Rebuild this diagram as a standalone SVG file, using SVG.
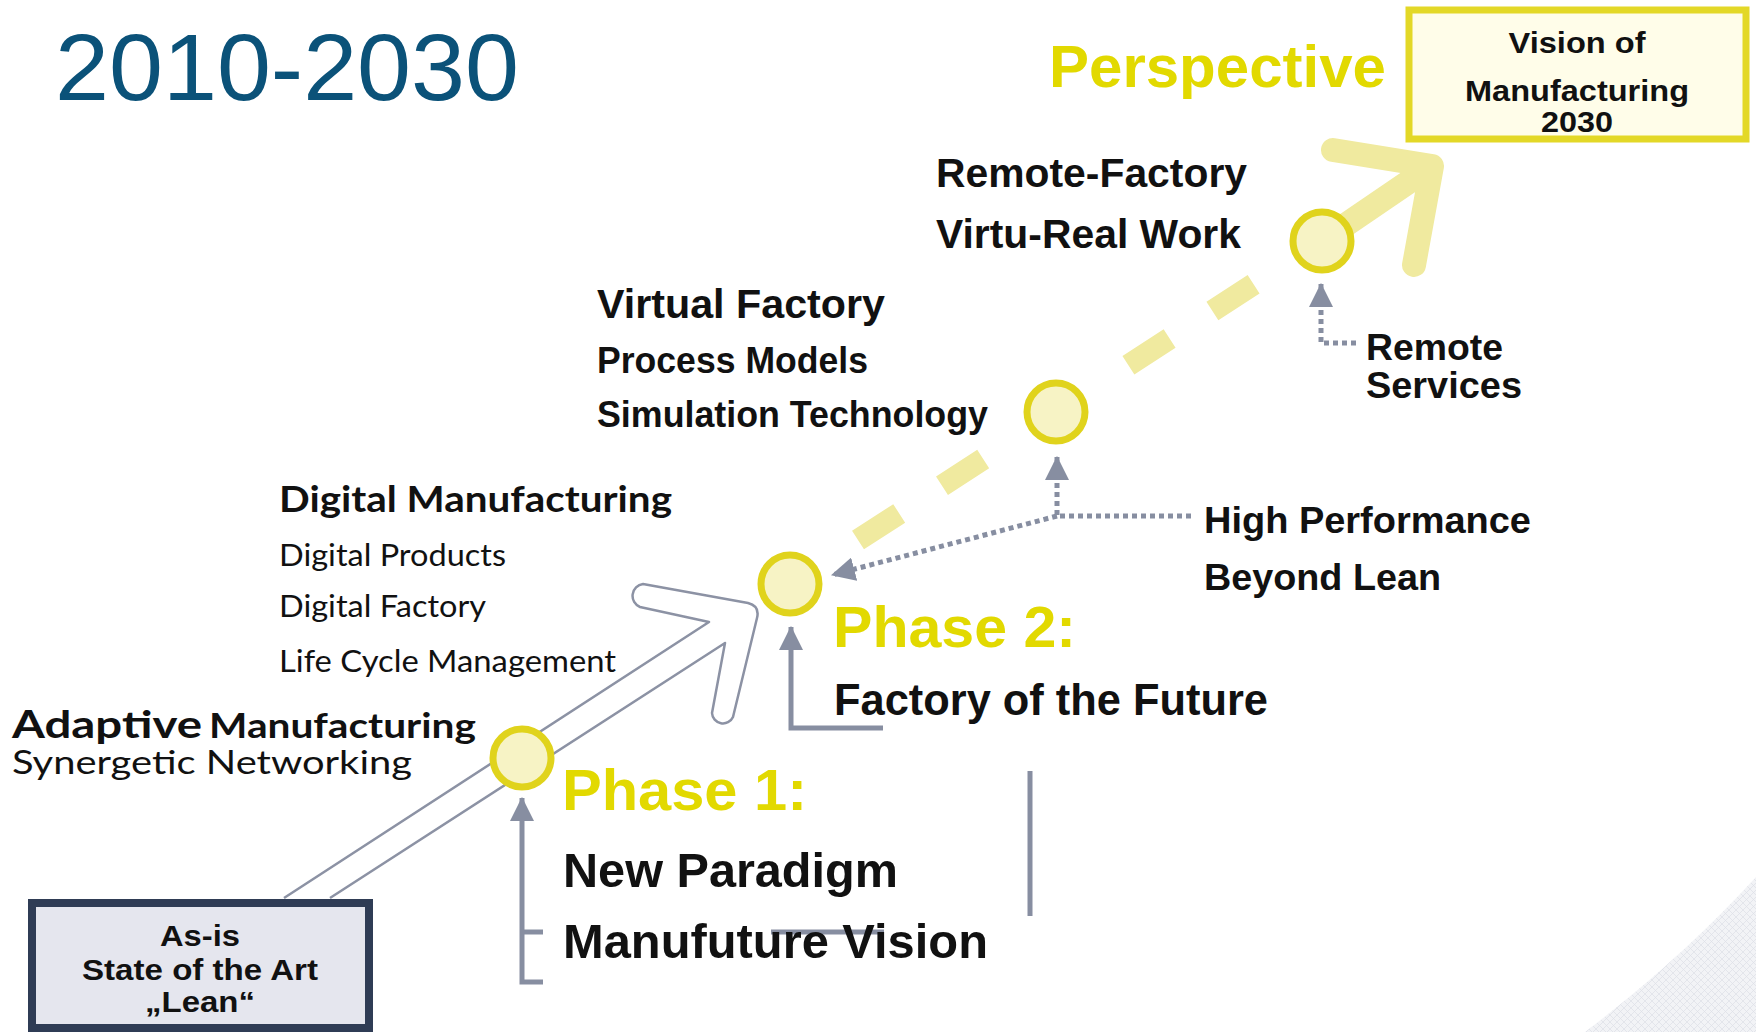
<svg xmlns="http://www.w3.org/2000/svg" width="1756" height="1032" viewBox="0 0 1756 1032">
<defs>
<style>
.b{font-family:"Liberation Sans",Arial,sans-serif;font-weight:bold;fill:#111}
.c{font-family:Lato,"Open Sans",sans-serif;fill:#111}
.yl{fill:#E2D900}
.node{fill:#F7F3C5;stroke:#E0D31C;stroke-width:7}
.gray{stroke:#878EA1;fill:none;stroke-width:5}
.dot{stroke-dasharray:5 4}
.dash{stroke:#F0EA9F;stroke-width:22;fill:none}
</style>
<marker id="ah" markerUnits="userSpaceOnUse" markerWidth="24" markerHeight="24" viewBox="0 0 22 22" refX="21" refY="11" orient="auto">
<path d="M0,0 L22,11 L0,22 Z" fill="#878EA1"/>
</marker>
<pattern id="mesh" width="7" height="7" patternUnits="userSpaceOnUse">
<rect width="7" height="7" fill="#F2F3F6"/>
<path d="M0 0 L7 7 M7 0 L0 7" stroke="#DCDFE6" stroke-width="0.7"/>
</pattern>
</defs>
<rect width="1756" height="1032" fill="#FFFFFF"/>
<path id="swoosh" d="M1585 1032 Q1680 960 1756 877 L1756 1032 Z" fill="url(#mesh)"/>

<g id="title">
<text x="55" y="100" font-family="Liberation Sans, Arial, sans-serif" font-size="95" fill="#0B5279" textLength="464" lengthAdjust="spacingAndGlyphs">2010-2030</text>
</g>

<g id="connectors">
<path class="dash" d="M858 540 L899.2 513.4 M942 485.7 L983.2 459.1 M1128.4 365.2 L1169.6 338.6 M1212.4 310.9 L1253.6 284.3"/>
<path d="M1322 241 L1432 166 M1333 150 L1432 166 L1414 265" stroke="#F0EA9F" stroke-width="24" fill="none" stroke-linecap="round" stroke-linejoin="round"/>
<path d="M284 898 L709 622 L640 607 A12 12 0 0 1 643 584 L748 603 Q760 606 757 618 L733 717 A11 11 0 0 1 712 713 L725 643 L330 898" fill="#FFFFFF" stroke="#8C92A4" stroke-width="2.5" stroke-linejoin="round"/>
<path class="gray" d="M543 982 L522 982 L522 798" marker-end="url(#ah)"/>
<path class="gray" d="M522 932 L543 932"/>
<path class="gray" d="M883 728 L791 728 L791 627" marker-end="url(#ah)"/>
<path class="gray dot" d="M1356 343 L1321 343 L1321 284" marker-end="url(#ah)"/>
<path class="gray dot" d="M1191 516 L1057 516 L1057 457" marker-end="url(#ah)"/>
<path class="gray dot" d="M1057 516 L832 575" marker-end="url(#ah)"/>
<path class="gray" d="M1030 771 L1030 916"/>
<path class="gray" d="M771 932 L884 932"/>
</g>

<g id="node-vision">
<rect x="1409" y="10" width="337" height="129" fill="#FFFDE9" stroke="#E3D827" stroke-width="7"/>
<text class="b" x="1577" y="53" font-size="30" text-anchor="middle" textLength="137" lengthAdjust="spacingAndGlyphs">Vision of</text>
<text class="b" x="1577" y="101" font-size="29" text-anchor="middle" textLength="224" lengthAdjust="spacingAndGlyphs">Manufacturing</text>
<text class="b" x="1577" y="132" font-size="29" text-anchor="middle" textLength="72" lengthAdjust="spacingAndGlyphs">2030</text>
</g>

<g id="node-perspective">
<text class="b yl" x="1049" y="87" font-size="60">Perspective</text>
<circle class="node" cx="1322" cy="241" r="29"/>
<text class="b" x="936" y="187" font-size="41" textLength="311" lengthAdjust="spacingAndGlyphs">Remote-Factory</text>
<text class="b" x="936" y="248" font-size="41" textLength="305" lengthAdjust="spacingAndGlyphs">Virtu-Real Work</text>
</g>

<g id="node-remote-services">
<text class="b" x="1366" y="360" font-size="36" textLength="137" lengthAdjust="spacingAndGlyphs">Remote</text>
<text class="b" x="1366" y="398" font-size="36" textLength="156" lengthAdjust="spacingAndGlyphs">Services</text>
</g>

<g id="node-virtual">
<circle class="node" cx="1056" cy="412" r="29"/>
<text class="b" x="597" y="318" font-size="41" textLength="288" lengthAdjust="spacingAndGlyphs">Virtual Factory</text>
<text class="b" x="597" y="373" font-size="36" textLength="271" lengthAdjust="spacingAndGlyphs">Process Models</text>
<text class="b" x="597" y="427" font-size="36" textLength="391" lengthAdjust="spacingAndGlyphs">Simulation Technology</text>
</g>

<g id="node-high-performance">
<text class="b" x="1204" y="533" font-size="37" textLength="327" lengthAdjust="spacingAndGlyphs">High Performance</text>
<text class="b" x="1204" y="590" font-size="37" textLength="237" lengthAdjust="spacingAndGlyphs">Beyond Lean</text>
</g>

<g id="node-phase2">
<circle class="node" cx="790" cy="584" r="29"/>
<text class="b yl" x="833" y="647" font-size="58" textLength="243" lengthAdjust="spacingAndGlyphs">Phase 2:</text>
<text class="b" x="834" y="715" font-size="44" textLength="434" lengthAdjust="spacingAndGlyphs">Factory of the Future</text>
</g>

<g id="node-digital">
<text class="c" x="279" y="512" font-size="37" font-weight="bold" textLength="393" lengthAdjust="spacingAndGlyphs">Digital Manufacturing</text>
<text class="c" x="279" y="566" font-size="30" textLength="227" lengthAdjust="spacingAndGlyphs">Digital Products</text>
<text class="c" x="279" y="617" font-size="30" textLength="207" lengthAdjust="spacingAndGlyphs">Digital Factory</text>
<text class="c" x="279" y="672" font-size="30" textLength="337" lengthAdjust="spacingAndGlyphs">Life Cycle Management</text>
</g>

<g id="node-adaptive">
<text class="c" x="12" y="738" font-weight="bold"><tspan font-size="38" textLength="190" lengthAdjust="spacingAndGlyphs">Adaptive</tspan><tspan x="209" font-size="34" textLength="267" lengthAdjust="spacingAndGlyphs">Manufacturing</tspan></text>
<text class="c" x="12" y="774" font-size="32" textLength="400" lengthAdjust="spacingAndGlyphs">Synergetic Networking</text>
</g>

<g id="node-phase1">
<circle class="node" cx="522" cy="758" r="29"/>
<text class="b yl" x="562" y="810" font-size="58" textLength="245" lengthAdjust="spacingAndGlyphs">Phase 1:</text>
<text class="b" x="563" y="887" font-size="49" textLength="335" lengthAdjust="spacingAndGlyphs">New Paradigm</text>
<text class="b" x="563" y="958" font-size="49" textLength="425" lengthAdjust="spacingAndGlyphs">Manufuture Vision</text>
</g>

<g id="node-asis">
<rect x="32" y="903" width="337" height="125" fill="#E5E6EE" stroke="#2F3C55" stroke-width="8"/>
<text class="b" x="200" y="946" font-size="29" text-anchor="middle" textLength="80" lengthAdjust="spacingAndGlyphs">As-is</text>
<text class="b" x="200" y="980" font-size="30" text-anchor="middle" textLength="236" lengthAdjust="spacingAndGlyphs">State of the Art</text>
<text class="b" x="200" y="1012" font-size="30" text-anchor="middle" textLength="110" lengthAdjust="spacingAndGlyphs">„Lean“</text>
</g>
</svg>
